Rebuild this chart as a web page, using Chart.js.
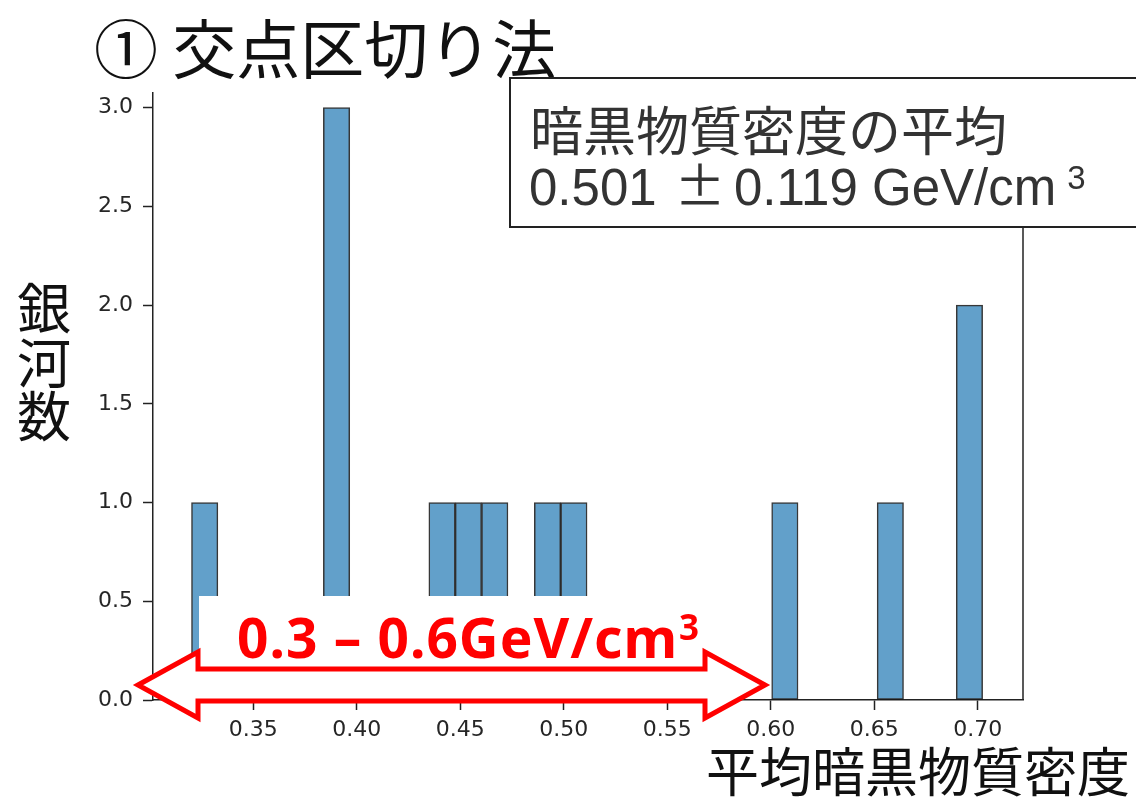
<!DOCTYPE html>
<html lang="ja">
<head>
<meta charset="UTF-8">
<title>交点区切り法</title>
<script src="https://cdn.jsdelivr.net/npm/chart.js"></script>
<style>
    body { margin: 0; background: #fff; }
    canvas { display: block; }
</style>
</head>
<body>
<canvas id="histChart" width="1136" height="799"></canvas>
<script>
// 30-bin histogram of mean dark matter density per galaxy
const binStart = 0.3202;
const binWidth = 0.01274;
const binCounts = [1, 0, 0, 0, 0, 3, 0, 0, 0, 1, 1, 1, 0, 1, 1, 0, 0, 0, 0, 0, 0, 0, 1, 0, 0, 0, 1, 0, 0, 2];

const xTicks = [0.35, 0.40, 0.45, 0.50, 0.55, 0.60, 0.65, 0.70];
const xTickLabels = ['0.35', '0.40', '0.45', '0.50', '0.55', '0.60', '0.65', '0.70'];
const yTicks = [0, 0.5, 1.0, 1.5, 2.0, 2.5, 3.0];
const yTickLabels = ['0.0', '0.5', '1.0', '1.5', '2.0', '2.5', '3.0'];

const titleText = '① 交点区切り法';
const yTitle = ['銀', '河', '数'];
const xTitle = '平均暗黒物質密度';
const boxLine1 = '暗黒物質密度の平均';
const boxMean = '0.501';
const boxErr = '0.119 GeV/cm';
const rangeText = '0.3 – 0.6GeV/cm';

// bars only for filled bins (adjacent bins keep the bar width = bin width)
const points = [];
binCounts.forEach((c, i) => {
    if (c > 0) points.push({ x: binStart + (i + 0.5) * binWidth, y: c });
});

const tickFont = { family: '"DejaVu Sans", sans-serif', size: 22 };

const overlay = {
    id: 'overlay',
    afterDraw(chart) {
        const ctx = chart.ctx;
        const a = chart.chartArea;
        ctx.save();

        // right spine
        ctx.strokeStyle = '#222';
        ctx.lineWidth = 1.5;
        ctx.beginPath();
        ctx.moveTo(a.right, a.top);
        ctx.lineTo(a.right, a.bottom);
        ctx.stroke();

        // title area covers the top of the axes
        ctx.fillStyle = '#fff';
        ctx.fillRect(0, 0, 510, 92);
        ctx.fillStyle = '#111';
        ctx.font = '64px "Noto Sans CJK JP"';
        ctx.textBaseline = 'middle';
        ctx.textAlign = 'left';
        ctx.fillText(titleText, 94, 49);

        // mean value box
        ctx.fillStyle = '#fff';
        ctx.fillRect(510, 78, 640, 149);
        ctx.strokeStyle = '#222';
        ctx.lineWidth = 2;
        ctx.strokeRect(510, 78, 640, 149);
        ctx.fillStyle = '#333';
        ctx.font = '53px "Noto Sans CJK JP"';
        ctx.textBaseline = 'middle';
        ctx.fillText(boxLine1, 530, 131);
        ctx.textBaseline = 'alphabetic';
        ctx.font = '51px "Liberation Sans", Arial, sans-serif';
        ctx.fillText(boxMean, 529, 205);
        ctx.textAlign = 'center';
        ctx.font = '51px "Noto Sans CJK JP"';
        ctx.fillText('±', 700, 205);
        ctx.textAlign = 'left';
        ctx.font = '51px "Liberation Sans", Arial, sans-serif';
        ctx.fillText(boxErr, 734, 205);
        const w2 = ctx.measureText(boxErr).width;
        ctx.font = '33px "Liberation Sans", Arial, sans-serif';
        ctx.fillText('3', 734 + w2 + 11, 189);

        // axis titles
        ctx.fillStyle = '#111';
        ctx.font = '54px "Noto Sans CJK JP"';
        ctx.textAlign = 'center';
        ctx.textBaseline = 'middle';
        ctx.fillText(yTitle[0], 44, 308);
        ctx.fillText(yTitle[1], 44, 363);
        ctx.fillText(yTitle[2], 44, 416);
        ctx.font = '53px "Noto Sans CJK JP"';
        ctx.textAlign = 'right';
        ctx.fillText(xTitle, 1130, 772);

        // red range annotation
        ctx.fillStyle = '#fff';
        ctx.fillRect(199, 596, 521, 80);
        ctx.beginPath();
        ctx.moveTo(138, 685);
        ctx.lineTo(198, 652);
        ctx.lineTo(198, 669);
        ctx.lineTo(705, 669);
        ctx.lineTo(705, 652);
        ctx.lineTo(765, 685);
        ctx.lineTo(705, 718);
        ctx.lineTo(705, 701);
        ctx.lineTo(198, 701);
        ctx.lineTo(198, 718);
        ctx.closePath();
        ctx.fill();
        ctx.strokeStyle = '#ff0000';
        ctx.lineWidth = 5;
        ctx.lineJoin = 'miter';
        ctx.stroke();

        ctx.fillStyle = '#ff0000';
        ctx.textAlign = 'left';
        ctx.textBaseline = 'alphabetic';
        ctx.letterSpacing = '1px';
        ctx.font = 'bold 55px "Noto Sans", sans-serif';
        const wr = ctx.measureText(rangeText).width;
        ctx.fillText(rangeText, 237, 658);
        ctx.font = 'bold 35px "Noto Sans", sans-serif';
        ctx.fillText('3', 237 + wr + 1, 640);
        ctx.letterSpacing = '0px';

        ctx.restore();
    }
};

new Chart(document.getElementById('histChart'), {
    type: 'bar',
    data: {
        datasets: [{
            data: points,
            backgroundColor: '#62a0ca',
            borderColor: 'rgba(20, 20, 20, 0.85)',
            borderWidth: 1.5,
            borderSkipped: false,
            barPercentage: 1.0,
            categoryPercentage: 1.0
        }]
    },
    options: {
        responsive: false,
        animation: false,
        layout: { padding: { top: 78, right: 113, left: 0, bottom: 0 } },
        plugins: {
            legend: { display: false },
            tooltip: { enabled: false }
        },
        scales: {
            x: {
                type: 'linear',
                offset: false,
                min: 0.3016,
                max: 0.7219,
                afterFit(scale) { scale.height = 99; },
                afterBuildTicks(scale) { scale.ticks = xTicks.map(v => ({ value: v })); },
                ticks: {
                    font: tickFont,
                    color: '#262626',
                    padding: 7,
                    maxRotation: 0,
                    autoSkip: false,
                    callback: (v, i) => xTickLabels[i]
                },
                grid: {
                    offset: false,
                    drawOnChartArea: false,
                    drawTicks: true,
                    tickLength: 10,
                    tickColor: '#222',
                    tickWidth: 1.5
                },
                border: { display: true, color: '#222', width: 1.5 }
            },
            y: {
                min: 0,
                max: 3.15,
                afterFit(scale) { scale.width = 153; },
                afterBuildTicks(scale) { scale.ticks = yTicks.map(v => ({ value: v })); },
                ticks: {
                    font: tickFont,
                    color: '#262626',
                    padding: 10,
                    autoSkip: false,
                    callback: (v, i) => yTickLabels[i]
                },
                grid: {
                    drawOnChartArea: false,
                    drawTicks: true,
                    tickLength: 10,
                    tickColor: '#222',
                    tickWidth: 1.5
                },
                border: { display: true, color: '#222', width: 1.5 }
            }
        }
    },
    plugins: [overlay]
});
</script>
</body>
</html>
